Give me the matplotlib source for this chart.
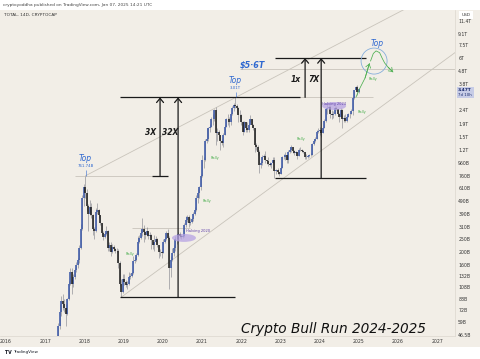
import numpy as np
import pandas as pd
import matplotlib
matplotlib.use("Agg")
import matplotlib.pyplot as plt
import matplotlib.ticker as mticker
from matplotlib.patches import Ellipse, Rectangle

# ---------------- data (TOTAL crypto market cap, 14D candles, billions USD) ----------------
start_date = "2017-05-01"
first_open = 40

close_2017 = [55, 70, 85, 80, 75, 68, 88, 115, 140, 115, 128, 145, 160, 175, 215, 300, 520, 620]
high_2017 = [58, 80, 92, 95, 88, 80, 90, 120, 150, 152, 135, 150, 168, 180, 225, 325, 540, 660]
low_2017 = [38, 52, 65, 72, 70, 55, 66, 86, 112, 95, 108, 125, 140, 150, 165, 212, 295, 450]

close_2018 = [560, 450, 390, 440, 380, 300, 290, 400, 420, 380, 330, 280, 260, 275, 290, 215, 225, 200, 220, 210, 205, 205, 165, 115, 100, 125]
high_2018 = [761.74, 600, 460, 500, 470, 390, 310, 430, 470, 425, 385, 335, 290, 285, 315, 295, 240, 240, 232, 225, 215, 215, 210, 170, 125, 135]
low_2018 = [520, 410, 290, 380, 360, 270, 250, 285, 390, 360, 320, 270, 245, 255, 270, 205, 205, 185, 195, 205, 195, 200, 150, 110, 91, 98]

close_2019 = [118, 112, 115, 130, 132, 138, 170, 175, 190, 240, 255, 280, 300, 285, 270, 290, 265, 270, 245, 225, 240, 250, 225, 200, 200, 195]
high_2019 = [135, 122, 120, 140, 138, 142, 185, 182, 195, 265, 270, 300, 360, 320, 290, 310, 290, 285, 275, 235, 270, 265, 255, 225, 210, 205]
low_2019 = [112, 108, 105, 113, 125, 130, 136, 165, 170, 188, 235, 250, 265, 240, 250, 265, 250, 260, 210, 210, 205, 235, 220, 180, 185, 180]

close_2020 = [240, 250, 280, 255, 150, 175, 195, 215, 250, 250, 275, 265, 260, 265, 320, 350, 370, 330, 340, 355, 390, 420, 520, 560, 620, 760]
high_2020 = [250, 260, 290, 300, 265, 185, 215, 225, 265, 270, 285, 285, 275, 275, 335, 375, 385, 385, 360, 365, 400, 440, 545, 600, 640, 790]
low_2020 = [195, 235, 245, 250, 105, 130, 170, 185, 205, 230, 240, 255, 250, 255, 260, 310, 340, 310, 320, 330, 345, 385, 410, 470, 520, 590]

close_2021 = [1000, 1000, 1400, 1450, 1750, 1800, 2050, 2050, 2400, 1600, 1650, 1550, 1400, 1350, 1550, 1800, 2050, 2050, 1950, 2250, 2500, 2650, 2600, 2500, 2200, 2200]
high_2021 = [1100, 1050, 1450, 1750, 1800, 1900, 2150, 2250, 2450, 2550, 1750, 1700, 1550, 1450, 1600, 1850, 2100, 2250, 2150, 2300, 2600, 2750, 3010, 2700, 2550, 2400]
low_2021 = [740, 880, 980, 1350, 1400, 1650, 1780, 1850, 2000, 1300, 1400, 1450, 1200, 1300, 1250, 1550, 1800, 1850, 1800, 1850, 2200, 2350, 2500, 2300, 1950, 2100]

close_2022 = [1950, 1650, 1950, 1750, 1700, 1850, 2050, 1850, 1750, 1300, 1250, 1150, 920, 950, 1050, 1080, 1000, 980, 940, 920, 950, 1000, 830, 840, 810, 790]
high_2022 = [2250, 2000, 2000, 1950, 1950, 1900, 2200, 2050, 1900, 1750, 1350, 1300, 1200, 980, 1100, 1120, 1180, 1010, 1050, 970, 960, 1050, 1050, 860, 880, 820]
low_2022 = [1850, 1550, 1650, 1650, 1650, 1650, 1950, 1800, 1700, 1150, 1200, 1100, 800, 880, 920, 1020, 950, 930, 900, 900, 880, 930, 731, 780, 790, 760]

close_2023 = [880, 1050, 1050, 1100, 1000, 1150, 1200, 1250, 1180, 1140, 1150, 1080, 1200, 1200, 1180, 1150, 1060, 1050, 1070, 1090, 1100, 1320, 1400, 1450, 1650, 1680]
high_2023 = [900, 1080, 1120, 1150, 1100, 1200, 1250, 1300, 1250, 1200, 1180, 1160, 1240, 1250, 1220, 1200, 1160, 1120, 1090, 1120, 1130, 1350, 1450, 1500, 1700, 1750]
low_2023 = [780, 870, 1020, 1000, 960, 960, 1130, 1150, 1130, 1100, 1110, 1030, 1070, 1170, 1160, 1140, 1020, 1030, 1040, 1050, 1070, 1100, 1300, 1380, 1450, 1600]

close_2024 = [1700, 1600, 1750, 2000, 2450, 2500, 2550, 2250, 2200, 2250, 2500, 2450, 2250, 2150, 2400, 2050, 2100, 2000, 2150, 2250, 2250, 2350, 3000, 3400, 3600, 3300, 3470]
high_2024 = [1800, 1750, 1800, 2050, 2500, 2750, 2650, 2650, 2400, 2350, 2600, 2600, 2450, 2300, 2500, 2450, 2200, 2250, 2200, 2300, 2300, 2450, 3050, 3450, 3700, 3750, 3550]
low_2024 = [1550, 1500, 1600, 1750, 1950, 2250, 2350, 2100, 2050, 2100, 2200, 2400, 2200, 1950, 2100, 1750, 1950, 1950, 1950, 2150, 2100, 2250, 2200, 2950, 3400, 3150, 3250]

year_ticks = [2016, 2017, 2018, 2019, 2020, 2021, 2022, 2023, 2024, 2025, 2026, 2027]
price_ticks = [11400, 9100, 7500, 6000, 4800, 3800, 2400, 1900, 1500, 1200, 960, 760, 610,
               490, 390, 310, 250, 200, 160, 132, 108, 88, 72, 59, 46.5]
price_tick_labels = ["11.4T", "9.1T", "7.5T", "6T", "4.8T", "3.8T", "2.4T", "1.9T", "1.5T",
                     "1.2T", "960B", "760B", "610B", "490B", "390B", "310B", "250B", "200B", "160B",
                     "132B", "108B", "88B", "72B", "59B", "46.5B"]

# key levels (billions)
lvl_top_2018 = 761.74
lvl_top_2021 = 3010
lvl_low_2018 = 91
lvl_low_2022 = 731
lvl_target_6t = 6000
lvl_5_6t = 4950
lvl_halving2020 = 305
last_price_label = "3.47T"

# hand-drawn projection path (year, value in B)
rally_yr = [2024.93, 2025.03, 2025.16, 2025.27]
rally_v = [3030, 3550, 4230, 5450]
squiggle_yr = [2025.30, 2025.37, 2025.44, 2025.53, 2025.60, 2025.66, 2025.75, 2025.87]
squiggle_v = [5700, 6500, 6800, 6600, 5950, 5500, 5100, 4700]

# ---------------- assemble ----------------
close = np.array(close_2017 + close_2018 + close_2019 + close_2020 + close_2021 + close_2022 + close_2023 + close_2024, float)
high = np.array(high_2017 + high_2018 + high_2019 + high_2020 + high_2021 + high_2022 + high_2023 + high_2024, float)
low = np.array(low_2017 + low_2018 + low_2019 + low_2020 + low_2021 + low_2022 + low_2023 + low_2024, float)
opens = np.concatenate([[first_open], close[:-1]])
dates = pd.date_range(start_date, periods=len(close), freq="14D")
yrs = np.asarray(dates.year + (dates.dayofyear - 1) / np.where(dates.is_leap_year, 366, 365), float)

BG = "#f2eee7"
UP = "#3b58a8"
DOWN = "#1f1f1f"
BLACK = "#1a1a1a"
GRAYLINE = "#c9c4bb"
BLUE = "#2f68d0"
GREEN = "#4caf50"
PURPLE = "#5e3fa8"

W, H = 480, 359
fig = plt.figure(figsize=(4.8, 3.59), dpi=100)
fig.patch.set_facecolor("white")
fig.patches.append(Rectangle((0, 1 - 347 / H), 1, (347 - 9.5) / H, transform=fig.transFigure,
                             facecolor=BG, edgecolor="none", zorder=-10))

ax = fig.add_axes([0, 1 - 336 / H, 455 / W, (336 - 10) / H])
ax.set_facecolor(BG)
ax.set_yscale("log")
ax.set_xlim(2015.847, 2027.454)
ax.set_ylim(45.83, 13935)

for s in ["top", "left"]:
    ax.spines[s].set_visible(False)
for s in ["right", "bottom"]:
    ax.spines[s].set_color("#dcd7ce")
    ax.spines[s].set_linewidth(0.5)

ax.yaxis.set_minor_locator(mticker.NullLocator())
ax.set_yticks(price_ticks)
ax.set_yticklabels(price_tick_labels)
ax.tick_params(axis="y", which="both", left=False, right=False, labelleft=False, labelright=True,
               length=0, pad=2.3, labelsize=3.3, labelcolor="#333333")
ax.set_xticks(year_ticks)
ax.set_xticklabels([str(y) for y in year_ticks])
ax.tick_params(axis="x", length=0, pad=2.2, labelsize=3.3, labelcolor="#333333")

# ---------------- channel / level lines ----------------
def ray(x0, v0, x1, v1, xend):
    xs = np.array([x0, xend])
    vs = v0 * (v1 / v0) ** ((xs - x0) / (x1 - x0))
    return xs, vs

xs, vs = ray(2018.03, lvl_top_2018, 2021.86, lvl_top_2021, 2027.6)
ax.plot(xs, vs, color=GRAYLINE, lw=0.6, zorder=1)
xs, vs = ray(2018.95, lvl_low_2018, 2023.0, 700, 2027.6)
ax.plot(xs, vs, color=GRAYLINE, lw=0.6, zorder=1)

ax.hlines(lvl_top_2018, 2017.75, 2019.72, color=GRAYLINE, lw=0.6, zorder=1)
ax.hlines(lvl_top_2021, 2023.3, 2025.36, color=GRAYLINE, lw=0.6, zorder=1)
ax.hlines(lvl_5_6t, 2021.97, 2027.6, color=GRAYLINE, lw=0.6, zorder=1)
ax.hlines(lvl_halving2020, 2019.21, 2020.69, color=GRAYLINE, lw=0.6, zorder=1)

ax.hlines(lvl_top_2018, 2019.72, 2020.13, color=BLACK, lw=0.9, zorder=4)
ax.hlines(lvl_top_2021, 2018.91, 2023.5, color=BLACK, lw=0.9, zorder=4)
ax.hlines(lvl_target_6t, 2022.86, 2025.18, color=BLACK, lw=0.9, zorder=4)
ax.hlines(lvl_low_2022, 2022.86, 2025.18, color=BLACK, lw=0.9, zorder=4)
ax.hlines(lvl_low_2018, 2018.91, 2021.84, color=BLACK, lw=0.9, zorder=4)

# ---------------- candles ----------------
up = close >= opens
ax.vlines(yrs, low, high, color="#7d7d86", lw=0.4, zorder=2)
ax.vlines(yrs[up], opens[up], close[up], color=UP, lw=1.15, zorder=3)
ax.vlines(yrs[~up], opens[~up], close[~up], color=DOWN, lw=1.15, zorder=3)

# ---------------- arrows ----------------
def varrow(x, v0, v1):
    ax.annotate("", xy=(x, v1), xytext=(x, v0),
                arrowprops=dict(arrowstyle="->,head_length=0.3,head_width=0.25", color=BLACK,
                                lw=0.9, shrinkA=0, shrinkB=0), zorder=5)

varrow(2019.93, lvl_top_2018, lvl_top_2021)
varrow(2020.39, lvl_low_2018, lvl_top_2021)
varrow(2023.63, lvl_top_2021, lvl_target_6t)
varrow(2024.04, lvl_low_2022, lvl_target_6t)

lab = dict(fontsize=5.5, fontweight="bold", fontstyle="italic", color=BLACK, ha="center", va="center", zorder=6)
ax.text(2019.70, 1612, "3X", **lab)
ax.text(2020.18, 1612, "32X", **lab)
ax.text(2023.40, 4155, "1x", **lab)
ax.text(2023.86, 4155, "7X", **lab)

# ---------------- tops ----------------
for x, v, s in [(2018.03, lvl_top_2018, "761.74B"), (2021.86, lvl_top_2021, "3.01T")]:
    ax.vlines(x, v, v * 1.1, color=BLUE, lw=0.4, zorder=4)
    ax.annotate("Top", (x, v), xytext=(0, 12.5), textcoords="offset points", ha="center", va="center",
                fontsize=5.5, fontstyle="italic", color=BLUE, zorder=6)
    ax.annotate(s, (x, v), xytext=(0, 7), textcoords="offset points", ha="center", va="center",
                fontsize=2.8, color=BLUE, zorder=6)

ax.text(2022.30, 5300, "$5·6T", fontsize=5.8, fontweight="bold", fontstyle="italic", color=BLUE,
        ha="center", va="center", zorder=6)
ax.text(2025.46, 7800, "Top", fontsize=5.5, fontstyle="italic", color=BLUE, ha="center", va="center", zorder=6)

def to_axes(x, v):
    return ax.transAxes.inverted().transform(ax.transData.transform((x, v)))

ax.add_patch(Ellipse(to_axes(2025.39, 5690), 26 / 455, 26 / 326, transform=ax.transAxes,
                     fill=False, edgecolor="#86aedb", lw=0.6, zorder=5))

ax.plot(rally_yr, rally_v, color=GREEN, lw=0.55, zorder=6)
ax.annotate("", xy=(rally_yr[-1], rally_v[-1]), xytext=(rally_yr[-2], rally_v[-2]),
            arrowprops=dict(arrowstyle="->,head_length=0.25,head_width=0.18", color=GREEN, lw=0.55,
                            shrinkA=0, shrinkB=0), zorder=6)
ax.plot(squiggle_yr, squiggle_v, color=GREEN, lw=0.55, zorder=6)
ax.annotate("", xy=(squiggle_yr[-1], squiggle_v[-1]), xytext=(squiggle_yr[-2], squiggle_v[-2]),
            arrowprops=dict(arrowstyle="->,head_length=0.25,head_width=0.18", color=GREEN, lw=0.55,
                            shrinkA=0, shrinkB=0), zorder=6)

for x, v in [(2019.16, 193), (2021.13, 489), (2021.33, 1040), (2023.53, 1451), (2025.08, 2329), (2025.36, 4155)]:
    ax.text(x, v, "Rally", fontsize=2.6, color=GREEN, ha="center", va="center", zorder=6)

# ---------------- halving markers ----------------
ax.add_patch(Ellipse(to_axes(2020.54, 256), 24 / 455, 8 / 326, transform=ax.transAxes,
                     facecolor="#b7a3e3", alpha=0.75, edgecolor="none", zorder=5))
ax.text(2020.90, 289, "Halving 2020", fontsize=2.6, color=PURPLE, ha="center", va="center", zorder=6)
ax.add_patch(Ellipse(to_axes(2024.37, 2589), 24 / 455, 8 / 326, transform=ax.transAxes,
                     facecolor="#b7a3e3", alpha=0.75, edgecolor="none", zorder=5))
ax.text(2024.37, 2700, "Halving 2024", fontsize=2.6, color=PURPLE, ha="center", va="center", zorder=6)

# ---------------- figure texts ----------------
fig.text(3 / W, 1 - 4.8 / H, "cryptoyoddha published on TradingView.com, Jan 07, 2025 14:21 UTC",
         fontsize=3.1, color="#444444", ha="left", va="center")
fig.text(4 / W, 1 - 15 / H, "TOTAL, 14D, CRYPTOCAP", fontsize=3.1, color="#333333", ha="left", va="center")
fig.text(333.5 / W, 1 - 328.5 / H, "Crypto Bull Run 2024-2025", fontsize=9.8, fontstyle="italic",
         color="#111111", ha="center", va="center")
fig.text(466 / W, 1 - 15 / H, "USD", fontsize=3.1, color="#333333", ha="center", va="center",
         bbox=dict(boxstyle="square,pad=0.5", facecolor="white", edgecolor="none"), zorder=10)
fig.patches.append(Rectangle((456.5 / W, 1 - 97.5 / H), 17.5 / W, 10.5 / H, transform=fig.transFigure,
                             facecolor="#c7cce6", edgecolor="none", zorder=9))
fig.text(458 / W, 1 - 89.8 / H, last_price_label, fontsize=3.2, color="#1a2a6c", fontweight="bold",
         ha="left", va="center", zorder=10)
fig.text(458 / W, 1 - 94.8 / H, "7d 10h", fontsize=2.8, color="#1a2a6c", ha="left", va="center", zorder=10)
fig.text(5 / W, 1 - 352.5 / H, "TV", fontsize=3.3, fontweight="bold", color="#131722", ha="left", va="center")
fig.text(13 / W, 1 - 352.5 / H, "TradingView", fontsize=3.0, color="#131722", ha="left", va="center")

fig.savefig("out.png", dpi=100, facecolor=fig.get_facecolor())
